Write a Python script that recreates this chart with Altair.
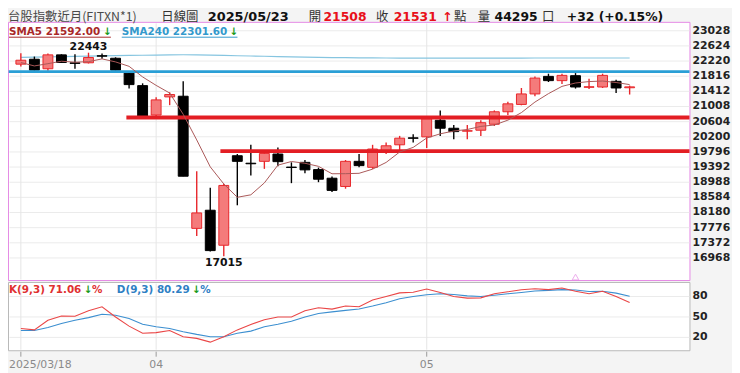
import altair as alt
import pandas as pd

# ---------------- data ----------------
dates = ["2025/03/18", "2025/03/19", "2025/03/20", "2025/03/21", "2025/03/24", "2025/03/25",
         "2025/03/26", "2025/03/27", "2025/03/28", "2025/03/31",
         "2025/04/01", "2025/04/02", "2025/04/07", "2025/04/08", "2025/04/09", "2025/04/10",
         "2025/04/11", "2025/04/14", "2025/04/15", "2025/04/16", "2025/04/17", "2025/04/18",
         "2025/04/21", "2025/04/22", "2025/04/23", "2025/04/24", "2025/04/25", "2025/04/28",
         "2025/04/29", "2025/04/30",
         "2025/05/02", "2025/05/05", "2025/05/06", "2025/05/07", "2025/05/08", "2025/05/09",
         "2025/05/12", "2025/05/13", "2025/05/14", "2025/05/15", "2025/05/16", "2025/05/19",
         "2025/05/20", "2025/05/21", "2025/05/22", "2025/05/23"]

opens = [22137, 22269, 22015, 22385, 22172, 22174, 22362, 22295, 21899, 21565,
         20780, 21264, 21282, 17757, 18241, 17307, 19695, 19495, 19545, 19740,
         19392, 19518, 19325, 19095, 18875, 19545, 19386, 19809, 19986, 20172,
         20198, 20640, 20428, 20350, 20375, 20534, 20867, 21063, 21343, 21811,
         21698, 21830, 21520, 21528, 21679, 21508]
highs = [22428, 22340, 22420, 22400, 22401, 22443, 22420, 22320, 21944, 21626,
         21256, 21388, 21679, 19280, 18841, 18947, 19740, 19986, 19810, 19915,
         19518, 19580, 19378, 19140, 19580, 19740, 19986, 20047, 20224, 20269,
         20708, 20904, 20515, 20515, 20640, 20904, 21132, 21502, 21811, 21883,
         21883, 21899, 21750, 21883, 21724, 21565]
lows = [22076, 21965, 21962, 22170, 22015, 22155, 22280, 21970, 21486, 20740,
        20720, 21044, 19148, 17553, 17137, 17015, 18373, 19166, 19344, 19412,
        18963, 19227, 18989, 18725, 18815, 19386, 19344, 19740, 19828, 20047,
        19899, 20224, 20137, 20137, 20224, 20489, 20780, 21040, 21282, 21661,
        21608, 21486, 21475, 21502, 21370, 21327]
closes = [22242, 21978, 22385, 22182, 22158, 22314, 22350, 21978, 21592, 20753,
          21184, 21327, 19148, 18169, 17164, 18902, 19545, 19480, 19757, 19537,
          19380, 19317, 19068, 18770, 19545, 19431, 19873, 19960, 20163, 20160,
          20682, 20428, 20338, 20362, 20576, 20867, 21079, 21343, 21766, 21698,
          21838, 21528, 21535, 21838, 21502, 21531]

sma5 = [22180, 22090, 22150, 22215, 22190, 22204, 22278, 22197, 22079, 21797,
        21571, 21367, 20801, 20116, 19398, 18942, 18586, 18652, 18970, 19444,
        19540, 19494, 19412, 19214, 19216, 19226, 19337, 19516, 19794, 19917,
        20168, 20279, 20354, 20394, 20477, 20514, 20644, 20845, 21126, 21351,
        21545, 21635, 21673, 21687, 21648, 21592]
sma240 = [22320, 22325, 22330, 22338, 22345, 22352, 22358, 22365, 22370, 22375,
          22380, 22385, 22388, 22385, 22378, 22370, 22362, 22355, 22348, 22340,
          22333, 22326, 22320, 22314, 22310, 22306, 22304, 22302, 22300, 22300,
          22299, 22299, 22298, 22298, 22298, 22299, 22300, 22300, 22301, 22301,
          22302, 22302, 22302, 22302, 22302, 22301.6]

k_vals = [33, 31, 45, 51.5, 51, 59, 65, 50, 36.5, 26,
          27, 30, 21, 18.5, 13, 21, 31, 39, 46, 50,
          50, 59, 63.5, 61.5, 66, 65, 75, 80, 85.4, 86.4,
          91, 86, 80, 77.7, 78, 84, 87, 90, 91.5, 90.2,
          92.6, 87.8, 84, 87.8, 80, 71.06]
d_vals = [30, 30, 34.6, 40.4, 45.2, 49, 54, 52.4, 47.6, 39.4,
          35.6, 33, 28.3, 24.4, 21, 21, 26, 29.2, 35.6, 39.4,
          43.7, 50, 55, 57.4, 59.7, 61.7, 66, 71, 76.7, 80,
          82.5, 84, 83, 81, 80, 82, 84, 86, 88, 89,
          90.2, 89.5, 87.3, 87.8, 85, 80.29]

price_ticks = [23028, 22624, 22220, 21816, 21412, 21008, 20604, 20200,
               19796, 19392, 18988, 18584, 18180, 17776, 17372, 16968]
kd_ticks = [80, 50, 20]

blue_level = [21938]
blue_start = [-0.9]
red_levels = [20714, 19817]
red_starts = [7.8, 14.75]

# ---------------- frames ----------------
n = len(dates)
df = pd.DataFrame({"i": list(range(n)), "date": dates, "open": opens, "high": highs,
                   "low": lows, "close": closes, "sma5": sma5, "sma240": sma240,
                   "k": k_vals, "d": d_vals})

month_idx, month_txt = [0], [dates[0]]
for j in range(1, n):
    if dates[j][5:7] != dates[j - 1][5:7]:
        month_idx.append(j)
        month_txt.append(dates[j][5:7])
months = pd.DataFrame({"i": month_idx, "t": month_txt})

i_hi = highs.index(max(highs))
i_lo = lows.index(min(lows))
extremes_hi = pd.DataFrame({"i": [i_hi], "v": [highs[i_hi]]})
extremes_lo = pd.DataFrame({"i": [i_lo], "v": [lows[i_lo]]})

# ---------------- scales / geometry ----------------
W, H = 732, 365
X0, STEP = 8, 13.9
xs = alt.Scale(domain=[0, n - 1], range=[X0, X0 + STEP * (n - 1)], nice=False, zero=False)
ys = alt.Scale(domain=[min(price_ticks), max(price_ticks)], range=[250.7, 21], nice=False, zero=False)
ks = alt.Scale(domain=[20, 80], range=[331, 289.7], nice=False, zero=False)

RIGHT = 689
MAIN_T, MAIN_B = 12.5, 273.5
KD_T, KD_B = 275.5, 344.5

UP_FILL, UP_LINE = "#f47b7b", "#e8262b"
DN = "#000000"
one = pd.DataFrame({"a": [0]})


def X(field="i:Q"):
    return alt.X(field, scale=xs, axis=None)


def Yp(field):
    return alt.Y(field, scale=ys, axis=None)


def Yk(field):
    return alt.Y(field, scale=ks, axis=None)


def box(x1, y1, x2, y2, fill, stroke):
    return alt.Chart(one).mark_rect(fill=fill, stroke=stroke, strokeWidth=1).encode(
        x=alt.value(x1), x2=alt.value(x2), y=alt.value(y1), y2=alt.value(y2))


def hline(x1, x2, y, color, w=1):
    return alt.Chart(one).mark_rule(color=color, strokeWidth=w).encode(
        x=alt.value(x1), x2=alt.value(x2), y=alt.value(y))


def txt(s, x, y, color="#222", size=11, bold=False, font="DejaVu Sans", align="left"):
    return alt.Chart(pd.DataFrame({"t": [s]})).mark_text(
        align=align, baseline="middle", font=font, fontSize=size,
        fontWeight="bold" if bold else "normal", color=color).encode(
        text="t:N", x=alt.value(x), y=alt.value(y))


CJK = "Noto Sans CJK TC"
layers = []

# panels
layers.append(box(0.5, MAIN_T, RIGHT + 0.5, MAIN_B, "#ffffff", "#e58ae5"))
layers.append(box(0.5, KD_T, RIGHT + 0.5, KD_B, "#ffffff", "#b8b8b8"))

# grids
layers.append(alt.Chart(pd.DataFrame({"v": price_ticks})).mark_rule(color="#ebebeb", strokeWidth=1).encode(
    y=Yp("v:Q"), x=alt.value(1.5), x2=alt.value(RIGHT)))
layers.append(alt.Chart(pd.DataFrame({"v": kd_ticks})).mark_rule(color="#ebebeb", strokeWidth=1).encode(
    y=Yk("v:Q"), x=alt.value(1.5), x2=alt.value(RIGHT)))
layers.append(alt.Chart(months).mark_rule(color="#e6e6e6", strokeWidth=1).encode(
    x=X(), y=alt.value(MAIN_T + 1), y2=alt.value(MAIN_B - 1)))
layers.append(alt.Chart(months).mark_rule(color="#e6e6e6", strokeWidth=1).encode(
    x=X(), y=alt.value(KD_T + 1), y2=alt.value(KD_B - 1)))

# SMA240
layers.append(alt.Chart(df).mark_line(color="#86c5e0", strokeWidth=1.2).encode(x=X(), y=Yp("sma240:Q")))

# candles
up = "datum.close >= datum.open"
layers.append(alt.Chart(df).mark_rule(strokeWidth=1.4).encode(
    x=X(), y=Yp("low:Q"), y2="high:Q",
    color=alt.condition(up, alt.value(UP_LINE), alt.value(DN))))
layers.append(alt.Chart(df).mark_bar(size=10, strokeWidth=1).encode(
    x=X(), y=Yp("open:Q"), y2="close:Q",
    fill=alt.condition(up, alt.value(UP_FILL), alt.value(DN)),
    stroke=alt.condition(up, alt.value(UP_LINE), alt.value(DN))))

# support / resistance lines
layers.append(alt.Chart(pd.DataFrame({"v": blue_level, "s": blue_start})).mark_rule(
    color="#2a9fd6", strokeWidth=3).encode(x=X("s:Q"), x2=alt.value(RIGHT), y=Yp("v:Q")))
layers.append(alt.Chart(pd.DataFrame({"v": red_levels, "s": red_starts})).mark_rule(
    color="#e31e24", strokeWidth=4).encode(x=X("s:Q"), x2=alt.value(RIGHT), y=Yp("v:Q")))

# SMA5
layers.append(alt.Chart(df).mark_line(color="#aa5858", strokeWidth=1).encode(x=X(), y=Yp("sma5:Q")))

# extremes labels
layers.append(alt.Chart(extremes_hi).mark_text(baseline="bottom", dy=-1, font="DejaVu Sans", fontSize=11,
                                               fontWeight="bold", color="#111").encode(
    x=X(), y=Yp("v:Q"), text=alt.Text("v:Q", format="d")))
layers.append(alt.Chart(extremes_lo).mark_text(baseline="top", dy=1, font="DejaVu Sans", fontSize=11,
                                               fontWeight="bold", color="#111").encode(
    x=X(), y=Yp("v:Q"), text=alt.Text("v:Q", format="d")))

# KD lines
layers.append(alt.Chart(df).mark_line(color="#3c8fd0", strokeWidth=1.1).encode(x=X(), y=Yk("d:Q")))
layers.append(alt.Chart(df).mark_line(color="#ea4646", strokeWidth=1.1).encode(x=X(), y=Yk("k:Q")))

# right axis labels
layers.append(alt.Chart(pd.DataFrame({"v": price_ticks})).mark_text(
    align="left", baseline="middle", font="DejaVu Sans", fontSize=11, fontWeight="bold", color="#222").encode(
    y=Yp("v:Q"), x=alt.value(692), text=alt.Text("v:Q", format="d")))
layers.append(alt.Chart(pd.DataFrame({"v": kd_ticks})).mark_text(
    align="left", baseline="middle", font="DejaVu Sans", fontSize=11, fontWeight="bold", color="#222").encode(
    y=Yk("v:Q"), x=alt.value(692), text=alt.Text("v:Q", format="d")))

# bottom axis ticks and labels
layers.append(alt.Chart(months).mark_rule(color="#999999", strokeWidth=1).encode(
    x=X(), y=alt.value(KD_B + 1), y2=alt.value(KD_B + 6)))
layers.append(alt.Chart(months.iloc[:1]).mark_text(
    align="left", baseline="middle", font="DejaVu Sans", fontSize=11, color="#8a8a8a").encode(
    x=alt.value(1), y=alt.value(359), text="t:N"))
layers.append(alt.Chart(months.iloc[1:]).mark_text(
    align="center", baseline="middle", font="DejaVu Sans", fontSize=11, color="#8a8a8a").encode(
    x=X(), y=alt.value(359), text="t:N"))

# scroll marker
layers.append(alt.Chart(pd.DataFrame({"i": [41]})).mark_point(
    shape="triangle-up", filled=False, size=45, color="#e58ae5", strokeWidth=1).encode(
    x=X(), y=alt.value(270)))

# header
TY = 7.5
HF = 12.5
layers += [
    txt("台股指數近月(FITXN*1)", 0, TY, "#4a4a4a", HF, font=CJK),
    txt("日線圖", 155, TY, "#333", HF, font=CJK),
    txt("2025/05/23", 202, TY, "#111", 13, bold=True),
    txt("開", 304, TY, "#333", HF, font=CJK),
    txt("21508", 319, TY, "#e8101a", 12.5, bold=True),
    txt("收", 372, TY, "#333", HF, font=CJK),
    txt("21531", 390, TY, "#e8101a", 12.5, bold=True),
    txt("↑", 439, TY, "#e8101a", 12.5, bold=True),
    txt("點", 451, TY, "#333", HF, font=CJK),
    txt("量", 475, TY, "#333", HF, font=CJK),
    txt("44295", 492, TY, "#111", 12.5, bold=True),
    txt("口", 540, TY, "#333", HF, font=CJK),
    txt("+32 (+0.15%)", 565, TY, "#111", 12.5, bold=True),
]

# legends
SMA5_C, SMA240_C, GREEN = "#a82828", "#3399cc", "#1a9a1a"
LF = 10.5
LY = 22
layers += [
    txt("SMA5 21592.00", 1, LY, SMA5_C, LF, bold=True),
    txt("↓", 96, LY, GREEN, 10.5, bold=True),
    hline(1, 104, LY + 5.5, SMA5_C),
    txt("SMA240 22301.60", 115, LY, SMA240_C, LF, bold=True),
    txt("↓", 224, LY, GREEN, 10.5, bold=True),
    hline(115, 232, LY + 5.5, SMA240_C),
    txt("K(9,3) 71.06", 1, 283, "#e03030", LF, bold=True),
    txt("↓", 76.5, 283, GREEN, 10.5, bold=True),
    txt("%", 85, 283, "#e03030", LF, bold=True),
    txt("D(9,3) 80.29", 110, 283, "#2f80c4", LF, bold=True),
    txt("↓", 186, 283, GREEN, 10.5, bold=True),
    txt("%", 194.5, 283, "#2f80c4", LF, bold=True),
]

chart = alt.layer(*layers).resolve_scale(y="independent").properties(
    width=W, height=H, autosize=alt.AutoSizeParams(type="none"), padding=0,
    background="#f4f4f4",
).configure_view(strokeWidth=0)

chart.save("out.html", embed_options={"renderer": "svg", "actions": False})
